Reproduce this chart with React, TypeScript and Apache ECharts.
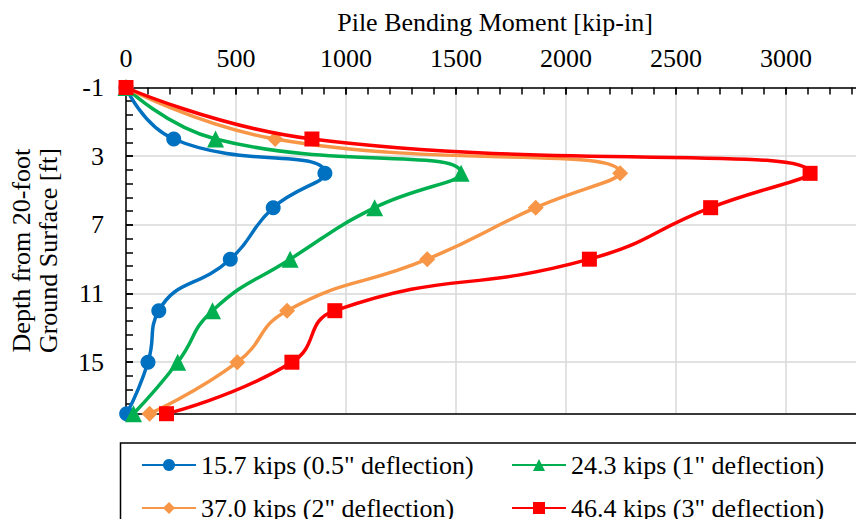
import React, { useEffect, useRef } from "react";
import * as echarts from "echarts";

const depths = [-1, 2, 4, 6, 9, 12, 15, 18];
const seriesNames = [
  '15.7 kips (0.5" deflection)',
  '24.3 kips (1" deflection)',
  '37.0 kips (2" deflection)',
  '46.4 kips (3" deflection)',
];
const moment157 = [0, 217, 904, 669, 474, 149, 100, 3];
const moment243 = [0, 407, 1523, 1130, 746, 393, 235, 34];
const moment370 = [0, 678, 2246, 1862, 1369, 732, 506, 107];
const moment464 = [0, 845, 3109, 2657, 2106, 949, 754, 184];
const xTicks = [0, 500, 1000, 1500, 2000, 2500, 3000];
const yTickLabels = ["-1", "3", "7", "11", "15"];

const colors = ["#0070C0", "#00B050", "#F79646", "#FF0000"];
const symbols = ["circle", "triangle", "diamond", "rect"];
const symbolSizes = [15, 17, 16, 15];
const FONT = "'Liberation Serif', 'Times New Roman', serif";
const XMAX = 3354;
const DEPTH_MIN = -1;
const DEPTH_MAX = 18;

export default function App() {
  const ref = useRef<HTMLDivElement>(null);
  useEffect(() => {
    if (!ref.current) return;
    const chart = echarts.init(ref.current, null, { renderer: "svg" });
    const allMoments = [moment157, moment243, moment370, moment464];
    const shift = (d: number) => d - DEPTH_MIN;
    const labelFor = (v: number) => {
      const i = Math.round(v / 4);
      return Math.abs(v - i * 4) < 1e-6 && yTickLabels[i] !== undefined ? yTickLabels[i] : "";
    };
    const xLabelFor = (v: number) => (xTicks.indexOf(v) >= 0 ? String(v) : "");
    const series = allMoments.map((vals, i) => ({
      type: "line",
      name: seriesNames[i],
      xAxisIndex: 0,
      yAxisIndex: 0,
      data: vals.map((v, j) => [v, shift(depths[j])]),
      smooth: 0.5,
      symbol: symbols[i],
      symbolSize: symbolSizes[i],
      showAllSymbol: true,
      itemStyle: { color: colors[i] },
      lineStyle: { color: colors[i], width: 3.5 },
      z: 2 + i,
    }));
    const textStyle = { fontFamily: FONT, fontSize: 26, color: "#000" };
    const legendPos = [
      { left: 141, top: 452 },
      { left: 511, top: 452 },
      { left: 141, top: 495 },
      { left: 511, top: 495 },
    ];
    const legends = seriesNames.map((n, i) => ({
      data: [n],
      orient: "horizontal",
      left: legendPos[i].left,
      top: legendPos[i].top,
      padding: 0,
      itemWidth: 54,
      itemHeight: 15,
      itemGap: 0,
      textStyle,
    }));
    chart.setOption({
      animation: false,
      backgroundColor: "#fff",
      grid: { left: 125.5, top: 87.5, right: 0, bottom: 113.3, containLabel: false },
      xAxis: [
        {
          type: "value",
          position: "top",
          min: 0,
          max: XMAX,
          interval: xTicks[1] - xTicks[0],
          name: "Pile Bending Moment [kip-in]",
          nameLocation: "middle",
          nameGap: 52,
          nameTextStyle: textStyle,
          axisLine: { show: true, lineStyle: { color: "#000", width: 1.5 } },
          axisTick: { show: true, inside: true, length: 7, lineStyle: { color: "#000", width: 1.5 } },
          axisLabel: { ...textStyle, margin: 16, showMaxLabel: false, formatter: (v: number) => xLabelFor(v) },
          splitLine: { show: true, lineStyle: { color: "#D9D9D9", width: 1.5 } },
        },
        {
          type: "value",
          position: "top",
          min: 0,
          max: XMAX,
          interval: 100,
          axisLine: { show: false },
          axisTick: { show: true, inside: true, length: 7, lineStyle: { color: "#000", width: 1.5 } },
          axisLabel: { show: false },
          splitLine: { show: false },
        },
        {
          type: "value",
          position: "bottom",
          min: 0,
          max: XMAX,
          axisLine: { show: true, lineStyle: { color: "#000", width: 1.5 } },
          axisTick: { show: false },
          axisLabel: { show: false },
          splitLine: { show: false },
        },
      ],
      yAxis: [
        {
          type: "value",
          inverse: true,
          min: 0,
          max: DEPTH_MAX - DEPTH_MIN,
          interval: 4,
          name: "Depth from 20-foot\nGround Surface [ft]",
          nameLocation: "middle",
          nameRotate: 90,
          nameGap: 64,
          nameTextStyle: { ...textStyle, lineHeight: 27 },
          axisLine: { show: true, lineStyle: { color: "#000", width: 1.5 } },
          axisTick: { show: true, inside: true, length: 7, lineStyle: { color: "#000", width: 1.5 } },
          axisLabel: { ...textStyle, margin: 22, showMaxLabel: false, formatter: (v: number) => labelFor(v) },
          splitLine: { show: true, lineStyle: { color: "#D9D9D9", width: 1.5 } },
        },
        {
          type: "value",
          inverse: true,
          position: "left",
          min: 0,
          max: DEPTH_MAX - DEPTH_MIN,
          interval: 0.8,
          axisLine: { show: false },
          axisTick: { show: true, inside: true, length: 7, lineStyle: { color: "#000", width: 1.5 } },
          axisLabel: { show: false },
          splitLine: { show: false },
        },
      ],
      legend: legends,
      graphic: [
        {
          type: "rect",
          shape: { x: 120.5, y: 443, width: 738.5, height: 110 },
          style: { fill: "none", stroke: "#000", lineWidth: 1.5 },
          silent: true,
        },
      ],
      series,
    });
    return () => chart.dispose();
  }, []);
  return <div ref={ref} style={{ width: 864, height: 527, margin: -8 }} />;
}
